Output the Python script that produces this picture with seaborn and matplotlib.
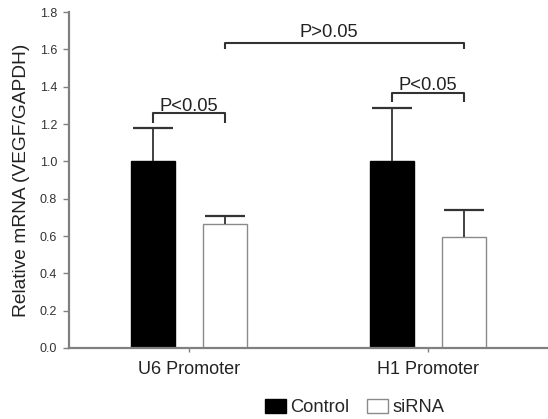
import matplotlib
matplotlib.use("Agg")
import matplotlib.pyplot as plt
import seaborn as sns
import pandas as pd

# Relative VEGF mRNA levels (normalised to GAPDH)
promoters = ["U6 Promoter", "H1 Promoter"]
groups = ["Control", "siRNA"]
control_mean = [1.0, 1.0]
control_err = [0.18, 0.284]
sirna_mean = [0.665, 0.597]
sirna_err = [0.045, 0.14]
y_ticks = [0.0, 0.2, 0.4, 0.6, 0.8, 1.0, 1.2, 1.4, 1.6, 1.8]

df = pd.DataFrame({
    "promoter": promoters * 2,
    "group": [groups[0]] * 2 + [groups[1]] * 2,
    "value": control_mean + sirna_mean,
})
errors = {groups[0]: control_err, groups[1]: sirna_err}

sns.set_style("white")
plt.rcParams["font.family"] = ["Liberation Sans", "DejaVu Sans"]

fig = plt.figure(figsize=(5.48, 4.19), dpi=100)
ax = fig.add_axes([0.126, 0.1695, 0.874, 0.8015])

sns.barplot(data=df, x="promoter", y="value", hue="group", order=promoters,
            hue_order=groups, palette={"Control": "black", "siRNA": "white"},
            width=0.6, gap=0.39, errorbar=None, legend=False, ax=ax)

spine_col = "#808080"
edge_cols = {"Control": "black", "siRNA": "#8a8a8a"}
centers = {}
for grp, cont in zip(groups, ax.containers):
    xs = []
    for i, p in enumerate(cont.patches):
        p.set_edgecolor(edge_cols[grp])
        p.set_linewidth(1.0)
        xc = p.get_x() + p.get_width() / 2
        xs.append(xc)
        h = p.get_height()
        # one-sided (upper) error bar starting at the bar top
        _, caps, _ = ax.errorbar([xc], [h], yerr=[[0], [errors[grp][i]]],
                                 fmt="none", ecolor="#333333", elinewidth=1.3,
                                 capsize=14.5, capthick=1.6, zorder=1)
        for c in caps:
            if abs(c.get_ydata()[0] - h) < 1e-9:
                c.set_visible(False)
    centers[grp] = xs

ax.set_xlim(-0.5, 1.5)
ax.set_ylim(0, 1.8)
ax.set_yticks(y_ticks)
ax.set_yticklabels([f"{t:.1f}" for t in y_ticks])
ax.set_xlabel("")
ax.set_ylabel("Relative mRNA (VEGF/GAPDH)", fontsize=13.8, color="#222222",
              labelpad=7)

for side in ["top", "right"]:
    ax.spines[side].set_visible(False)
for side in ["left", "bottom"]:
    ax.spines[side].set_color(spine_col)
    ax.spines[side].set_linewidth(1.6)

ax.tick_params(axis="y", direction="out", length=4, width=1.0,
               color=spine_col, labelsize=9, labelcolor="#333333", pad=4.5,
               left=True)
ax.tick_params(axis="x", direction="out", length=3, width=1.0,
               color=spine_col, labelsize=13, labelcolor="#222222", pad=6.5,
               bottom=True)


def bracket(x0, x1, y, drop, label, dx=0.0, dy=0.02):
    ax.plot([x0, x0, x1, x1], [y - drop, y, y, y - drop], color="#333333",
            lw=1.5, clip_on=False, solid_capstyle="butt")
    ax.text((x0 + x1) / 2 + dx, y + dy, label, ha="center", va="baseline",
            fontsize=13.2, color="#222222")


bracket(centers["Control"][0], centers["siRNA"][0], 1.259, 0.052, "P<0.05",
        dy=0.012)
bracket(centers["Control"][1], centers["siRNA"][1], 1.364, 0.045, "P<0.05",
        dy=0.02)
bracket(centers["siRNA"][0], centers["siRNA"][1], 1.632, 0.032, "P>0.05",
        dx=-0.065, dy=0.035)

handles = [plt.Rectangle((0, 0), 1, 1, facecolor="black", edgecolor="black"),
           plt.Rectangle((0, 0), 1, 1, facecolor="white", edgecolor="#8a8a8a")]
fig.legend(handles, groups, loc="center", bbox_to_anchor=(0.647, 0.027),
           ncol=2, frameon=False, fontsize=13.2, handlelength=1.15,
           handleheight=0.8, handletextpad=0.25, columnspacing=0.95,
           borderpad=0.1)

fig.savefig("out.png", dpi=100)
